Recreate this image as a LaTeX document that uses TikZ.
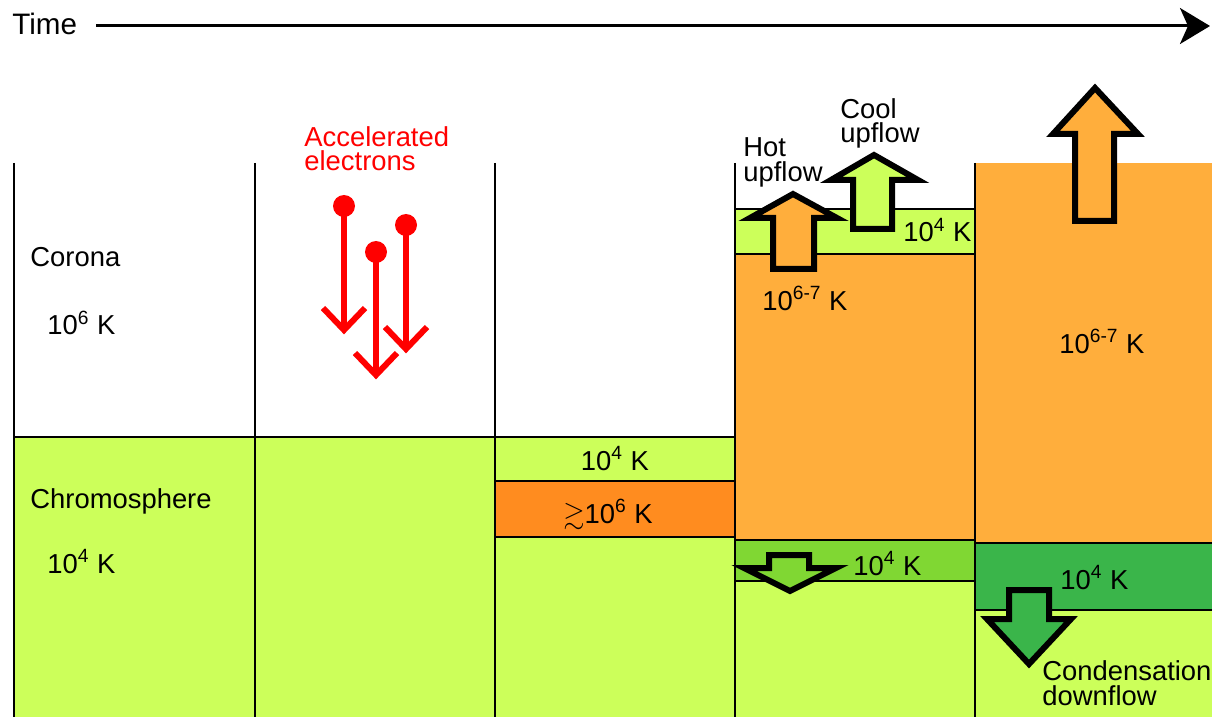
\documentclass[tikz,border=0pt]{standalone}
\usepackage{amssymb}
\usepackage{fontspec}
\setmainfont{Liberation Sans}
\usetikzlibrary{arrows.meta}
\definecolor{lgreen}{RGB}{204,255,90}
\definecolor{orangeA}{RGB}{255,174,60}
\definecolor{orangeB}{RGB}{255,140,31}
\definecolor{mgreen}{RGB}{128,215,51}
\definecolor{dgreen}{RGB}{58,181,74}
\definecolor{ered}{RGB}{255,0,0}
\begin{document}
\begin{tikzpicture}[x=0.5pt,y=-0.5pt,
  lbl/.style={inner sep=0pt,anchor=base west,font=\fontsize{13.7}{12.5}\selectfont,align=left},
  clbl/.style={inner sep=0pt,anchor=base,font=\fontsize{13.7}{12.5}\selectfont},
  border/.style={line width=1pt,black},
  blockarrow/.style={line width=3pt,black,miter limit=10,line join=miter},
  elec/.style={line width=3pt,ered,line join=miter}]
\useasboundingbox (0,0) rectangle (1212,717);
% fills
\fill[lgreen] (14,437) rectangle (495,717);
\fill[lgreen] (495,437) rectangle (735,481);
\fill[orangeB] (495,481) rectangle (735,537);
\fill[lgreen] (495,537) rectangle (735,717);
\fill[lgreen] (735,209) rectangle (975,254);
\fill[orangeA] (735,254) rectangle (975,540);
\fill[mgreen] (735,540) rectangle (975,581);
\fill[lgreen] (735,581) rectangle (975,717);
\fill[orangeA] (975,163) rectangle (1212,543);
\fill[dgreen] (975,543) rectangle (1212,610);
\fill[lgreen] (975,610) rectangle (1212,717);
% borders
\foreach \x in {14,255,495,735,975} \draw[border] (\x,163) -- (\x,717);
\draw[border] (14,437) -- (735,437);
\draw[border] (495,481) -- (735,481);
\draw[border] (495,537) -- (735,537);
\foreach \y in {209,254,540,581} \draw[border] (735,\y) -- (975,\y);
\foreach \y in {543,610} \draw[border] (975,\y) -- (1212,\y);
% time axis
\node[inner sep=0pt,anchor=base west,font=\fontsize{14.8}{15}\selectfont] (time) at (12,35) {Time};
\coordinate (tend) at (1210,26);
\draw[line width=1.5pt,-{Stealth[length=15pt,width=18pt,inset=4pt]}] (time.east |- tend) ++(19,0) -- (tend);
% electrons
\foreach \cx/\cy/\ty in {344/206/330, 376/252/375, 406/225/349}{
  \fill[ered] (\cx,\cy) circle[radius=5.5pt];
  \draw[elec] (\cx,\cy) -- (\cx,\ty-3);
  \draw[elec] (\cx-21,\ty-22) -- (\cx,\ty) -- (\cx+21,\ty-22);
}
% block arrows
\draw[blockarrow,fill=orangeA] (773,269) -- (773,218) -- (750,218) -- (793,194) -- (837,218) -- (814,218) -- (814,269) -- cycle;
\draw[blockarrow,fill=lgreen] (853,229) -- (853,180) -- (831,180) -- (874,155) -- (918,180) -- (892,180) -- (892,229) -- cycle;
\draw[blockarrow,fill=orangeA] (1075,221) -- (1075,134) -- (1053,134) -- (1095,88) -- (1138,134) -- (1114,134) -- (1114,221) -- cycle;
\draw[blockarrow,fill=mgreen] (769,555) -- (769,568) -- (744,568) -- (790,591) -- (836,568) -- (809,568) -- (809,555) -- cycle;
\draw[blockarrow,fill=dgreen] (1009,590) -- (1009,619) -- (987,619) -- (1029,664) -- (1071,619) -- (1049,619) -- (1049,590) -- cycle;
% labels
\node[lbl] (corona) at (30,267) {Corona};
\node[lbl] (tcor) at (47,335) {10\textsuperscript{6} K};
\node[lbl] (chromo) at (30,508) {Chromosphere};
\node[lbl] (tchr) at (47,573) {10\textsuperscript{4} K};
\node[lbl,text=ered] (acc) at (304,171) {Accelerated\\electrons};
\node[clbl] (c3a) at (615,470) {10\textsuperscript{4} K};
\node[clbl] (c3b) at (608,523) {$\gtrsim$10\textsuperscript{6} K};
\node[lbl] (hot) at (743,182) {Hot\\upflow};
\node[lbl] (cool) at (840,143) {Cool\\upflow};
\node[lbl] (c4a) at (903,242) {10\textsuperscript{4} K};
\node[lbl] (c4b) at (762,310) {10\textsuperscript{6-7} K};
\node[lbl] (c4c) at (853,575) {10\textsuperscript{4} K};
\node[lbl] (c5a) at (1059,353) {10\textsuperscript{6-7} K};
\node[lbl] (c5b) at (1060,589) {10\textsuperscript{4} K};
\node[lbl] (cond) at (1042,705) {Condensation\\downflow};
\end{tikzpicture}
\end{document}
